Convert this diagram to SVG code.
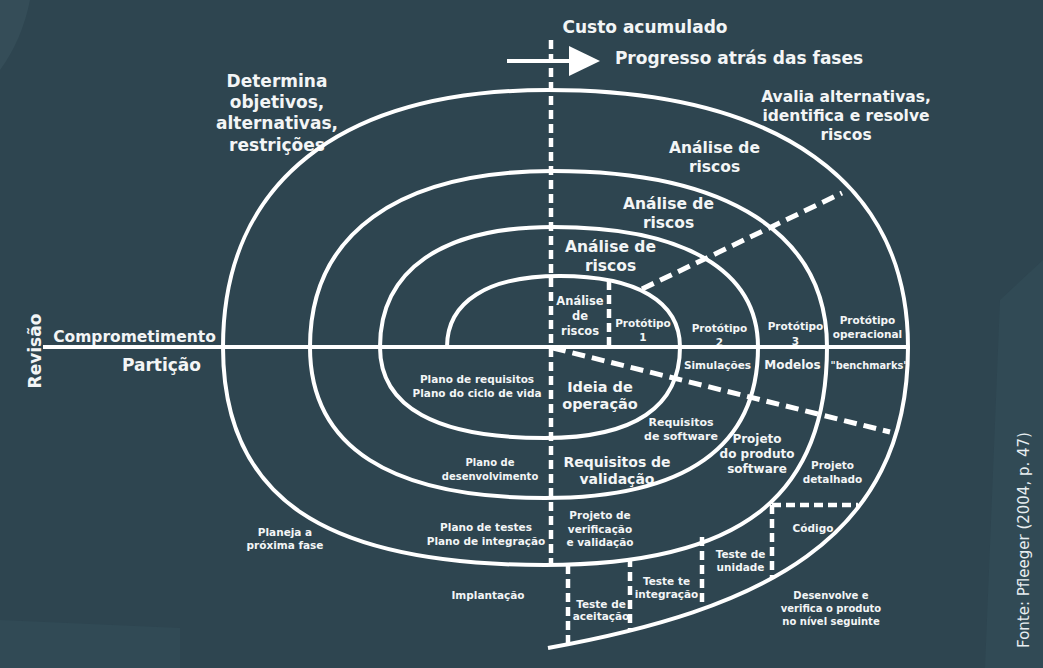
<svg xmlns="http://www.w3.org/2000/svg" width="1043" height="668" viewBox="0 0 1043 668">
<style>
.t{font-family:"DejaVu Sans",Verdana,sans-serif;font-weight:bold;fill:#f3f5f6;text-anchor:middle}
.s17{font-size:17px}.s155{font-size:15.5px}.s145{font-size:14.5px}.s14{font-size:14px}.s12{font-size:12px}.s115{font-size:11.5px}.s11{font-size:11px}.s105{font-size:10.5px}.s10{font-size:10px}
.ln{fill:none;stroke:#ffffff;stroke-width:4}
.dv{fill:none;stroke:#ffffff;stroke-width:4.5;stroke-dasharray:9 5}
.dd{fill:none;stroke:#ffffff;stroke-width:5;stroke-dasharray:13 7}
.src{font-family:"DejaVu Sans",Verdana,sans-serif;font-size:15px;fill:#e8eef1;text-anchor:middle}
</style>
<rect width="1043" height="668" fill="#2e4550"/>
<g id="background" opacity="0.5">
<path d="M0,0 L30,0 Q22,40 0,70 Z" fill="#3b5660"/>
<path d="M0,620 L180,628 L180,668 L0,668 Z" fill="#34505a"/>
<path d="M1043,260 L1000,300 L985,668 L1043,668 Z" fill="#34505a"/>
</g>
<g id="labels">
<g id="custo"><text class="t s17" x="645" y="33">Custo acumulado</text></g>
<g id="progresso"><text class="t s17" x="739" y="64">Progresso atrás das fases</text></g>
<g id="determina"><text class="t s17" x="277" y="87">Determina</text><text class="t s17" x="277" y="108">objetivos,</text><text class="t s17" x="277" y="129">alternativas,</text><text class="t s17" x="277" y="150.5">restrições</text></g>
<g id="avalia"><text class="t s155" x="846" y="102">Avalia alternativas,</text><text class="t s155" x="846" y="121">identifica e resolve</text><text class="t s155" x="846" y="140">riscos</text></g>
<g id="analise4"><text class="t s155" x="714.5" y="153">Análise de</text><text class="t s155" x="714.5" y="172">riscos</text></g>
<g id="analise3"><text class="t s155" x="668.5" y="209">Análise de</text><text class="t s155" x="668.5" y="228">riscos</text></g>
<g id="analise2"><text class="t s155" x="610.5" y="252">Análise de</text><text class="t s155" x="610.5" y="271">riscos</text></g>
<g id="analise1"><text class="t s115" x="580" y="305">Análise</text><text class="t s115" x="580" y="320">de</text><text class="t s115" x="580" y="335">riscos</text></g>
<g id="prototipo1"><text class="t s105" x="643" y="327">Protótipo</text><text class="t s105" x="643" y="341">1</text></g>
<g id="prototipo2"><text class="t s105" x="719.5" y="332">Protótipo</text><text class="t s105" x="719.5" y="346">2</text></g>
<g id="prototipo3"><text class="t s105" x="795.5" y="330">Protótipo</text><text class="t s105" x="795.5" y="345">3</text></g>
<g id="prototipo-op"><text class="t s105" x="867.5" y="324">Protótipo</text><text class="t s105" x="867.5" y="338">operacional</text></g>
<g id="simulacoes"><text class="t s105" x="717.5" y="369">Simulações</text></g>
<g id="modelos"><text class="t s12" x="792.5" y="369">Modelos</text></g>
<g id="benchmarks"><text class="t s10" x="869.5" y="369" textLength="78" lengthAdjust="spacingAndGlyphs">"benchmarks"</text></g>
<g id="ideia"><text class="t s145" x="600" y="392">Ideia de</text><text class="t s145" x="600" y="409">operação</text></g>
<g id="plano-req"><text class="t s105" x="477" y="383">Plano de requisitos</text><text class="t s105" x="477" y="397">Plano do ciclo de vida</text></g>
<g id="req-software"><text class="t s11" x="681" y="426">Requisitos</text><text class="t s11" x="681" y="440">de software</text></g>
<g id="req-validacao"><text class="t s14" x="617" y="467">Requisitos de</text><text class="t s14" x="617" y="484">validação</text></g>
<g id="projeto-produto"><text class="t s12" x="757" y="443">Projeto</text><text class="t s12" x="757" y="458">do produto</text><text class="t s12" x="757" y="473">software</text></g>
<g id="projeto-detalhado"><text class="t s105" x="832.5" y="469">Projeto</text><text class="t s105" x="832.5" y="483">detalhado</text></g>
<g id="plano-desenv"><text class="t s10" x="490" y="466">Plano de</text><text class="t s10" x="490" y="480">desenvolvimento</text></g>
<g id="plano-testes"><text class="t s105" x="486" y="531">Plano de testes</text><text class="t s105" x="486" y="545">Plano de integração</text></g>
<g id="implantacao"><text class="t s105" x="488" y="599">Implantação</text></g>
<g id="planeja"><text class="t s105" x="285" y="536">Planeja a</text><text class="t s105" x="285" y="549">próxima fase</text></g>
<g id="projeto-verif"><text class="t s105" x="600" y="519">Projeto de</text><text class="t s105" x="600" y="533">verificação</text><text class="t s105" x="600" y="546">e validação</text></g>
<g id="teste-unidade"><text class="t s105" x="740.5" y="558">Teste de</text><text class="t s105" x="740.5" y="571">unidade</text></g>
<g id="teste-integracao"><text class="t s105" x="666.5" y="585">Teste te</text><text class="t s105" x="666.5" y="598">integração</text></g>
<g id="teste-aceitacao"><text class="t s105" x="601" y="608">Teste de</text><text class="t s105" x="601" y="620">aceitação</text></g>
<g id="codigo"><text class="t s105" x="813" y="532">Código</text></g>
<g id="desenvolve"><text class="t s10" x="831" y="599">Desenvolve e</text><text class="t s10" x="831" y="612">verifica o produto</text><text class="t s10" x="831" y="625">no nível seguinte</text></g>
<g id="comprometimento"><text class="t s155" x="134.5" y="342">Comprometimento</text></g>
<g id="particao"><text class="t s17" x="161.5" y="371">Partição</text></g>
<g id="revisao"><text class="t s17" transform="translate(41,351) rotate(-90)" x="0" y="0">Revisão</text></g>
<g id="fonte"><text class="src" transform="translate(1029,540) rotate(-90)" x="0" y="0">Fonte: Pfleeger (2004, p. 47)</text></g>
</g>
<g id="connectors">
<line class="ln" x1="43" y1="347" x2="908" y2="347"/>
<line class="ln" x1="507" y1="61" x2="572" y2="61"/>
<polygon points="569,46 600,61 569,76" fill="#ffffff"/>
<path class="ln" d="M447,347 C447,301.6 487.7,276 560,276 C636.8,276 680,301.6 680,347"/>
<path class="ln" d="M680,347 C680,407 634.1,438 545,438 C436.1,438 380,407 380,347"/>
<path class="ln" d="M380,347 C380,270.2 442.3,227 553,227 C684.2,227 758,270.2 758,347"/>
<path class="ln" d="M758,347 C758,446.7 685.6,498 545,498 C389.9,498 310,446.7 310,347"/>
<path class="ln" d="M310,347 C310,234.4 397.5,171 553,171 C728.4,171 827,234.4 827,347"/>
<path class="ln" d="M827,347 C827,497.4 739.6,565 545,565 C322.8,565 223,497.4 223,347"/>
<path class="ln" d="M223,347 C223,182.5 340,90 548,90 C778.4,90 908,182.5 908,347"/>
<path class="ln" d="M908,347 C908,542 758,610 548,648"/>
<line class="dv" x1="551" y1="40" x2="551" y2="564"/>
<line class="dv" x1="609" y1="281" x2="609" y2="347"/>
<line class="dd" x1="642" y1="289" x2="842" y2="193"/>
<line class="dd" x1="553" y1="348" x2="890" y2="432"/>
<line class="dv" x1="568" y1="565" x2="568" y2="645"/>
<line class="dv" x1="630" y1="558" x2="630" y2="632"/>
<line class="dv" x1="702" y1="537" x2="702" y2="602"/>
<line class="dv" x1="772" y1="505" x2="772" y2="578"/>
<line class="dv" x1="772" y1="505" x2="858" y2="505"/>
</g>
</svg>
